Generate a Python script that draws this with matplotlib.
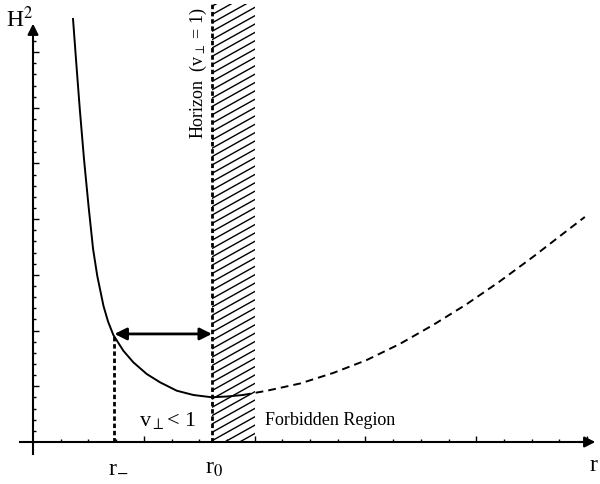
import numpy as np
import matplotlib.pyplot as plt

# Werte (Achseneinheiten: x-Tick 0.25, y-Tick 0.2)
solid_x = [0.361, 0.391, 0.422, 0.460, 0.501, 0.542, 0.580, 0.636, 0.677, 0.725, 0.815,
           0.905, 1.026, 1.146, 1.297, 1.447, 1.613, 1.751, 1.895]
solid_y = [7.594, 6.786, 5.978, 5.081, 4.237, 3.465, 2.980, 2.442, 2.163, 1.921, 1.639,
           1.431, 1.221, 1.072, 0.921, 0.844, 0.803, 0.817, 0.844]

dashed_x = [1.895, 2.11, 2.41, 2.71, 3.01, 3.31, 3.61, 3.91, 4.21, 4.51, 4.81, 4.98]
dashed_y = [0.844, 0.92, 1.05, 1.24, 1.47, 1.76, 2.10, 2.47, 2.88, 3.32, 3.78, 4.04]

r_minus = 0.735
r_zero = 1.615
forbidden_end = 2.0
arrow_level = 1.94
top = 7.86

plt.rcParams['font.family'] = ['Liberation Serif', 'DejaVu Serif']
plt.rcParams['mathtext.fontset'] = 'stix'

fig = plt.figure(figsize=(6, 4.85), dpi=100)
ax = fig.add_axes([0, 0, 1, 1])
ax.set_xlim(-0.298, 5.117)
ax.set_ylim(-0.754, 7.953)

# Achsen durch den Ursprung
for side in ['top', 'right']:
    ax.spines[side].set_visible(False)
ax.spines['left'].set_position(('data', 0))
ax.spines['bottom'].set_position(('data', 0))
ax.spines['left'].set_bounds(-0.215, 7.45)
ax.spines['bottom'].set_bounds(-0.117, 5.0)
for side in ['left', 'bottom']:
    ax.spines[side].set_linewidth(1.5)

ax.set_xticks(np.arange(1, 5.01, 1.0))
ax.set_xticks(np.arange(0.25, 5.01, 0.25), minor=True)
ax.set_yticks(np.arange(1, 7.01, 1.0))
ax.set_yticks(np.arange(0.2, 7.21, 0.2), minor=True)
ax.tick_params(which='both', direction='in', labelbottom=False, labelleft=False, width=1)
ax.tick_params(which='major', length=4.5)
ax.tick_params(which='minor', length=2.5)

# Pfeilspitzen der Achsen
ax.annotate('', xy=(0, 7.56), xytext=(0, 7.3),
            arrowprops=dict(arrowstyle='-|>', color='black', lw=1.5, mutation_scale=16))
ax.annotate('', xy=(5.10, 0), xytext=(4.9, 0),
            arrowprops=dict(arrowstyle='-|>', color='black', lw=1.5, mutation_scale=16))

# verbotener Bereich (schraffiert)
clip = plt.Rectangle((r_zero, 0), forbidden_end - r_zero, top, fill=False, lw=0)
ax.add_patch(clip)
spacing = 0.15
slope = 1.11
for b in np.arange(-slope * (forbidden_end - r_zero), top + spacing, spacing):
    ln, = ax.plot([r_zero, forbidden_end], [b, b + slope * (forbidden_end - r_zero)],
                  color='black', lw=1.0)
    ln.set_clip_path(clip)

# Kurve
ax.plot(solid_x, solid_y, color='black', lw=1.4)
ax.plot(dashed_x, dashed_y, color='black', lw=1.4, dashes=(4.0, 2.6))

# Horizont und r_-
ax.plot([r_zero, r_zero], [0, top], color='black', lw=2.0, dashes=(1.6, 1.0))
ax.plot([r_minus, r_minus], [0, arrow_level], color='black', lw=2.0, dashes=(1.6, 1.0))

ax.annotate('', xy=(r_minus, arrow_level), xytext=(r_zero, arrow_level),
            arrowprops=dict(arrowstyle='<|-|>', color='black', lw=2.0,
                            mutation_scale=18, shrinkA=0, shrinkB=0))

# Beschriftungen
ax.text(-0.12, 7.38, r'H$^2$', fontsize=17, ha='center', va='bottom')
ax.text(5.054, -0.40, 'r', fontsize=17, ha='center', va='center')
ax.text(r_minus + 0.03, -0.42, r'r$_{-}$', fontsize=17, ha='center', va='center')
ax.text(r_zero + 0.02, -0.45, r'r$_0$', fontsize=17, ha='center', va='center')
ax.text(1.22, 0.41, r'v$_{\perp}$< 1', fontsize=16, ha='center', va='center')
ax.text(2.09, 0.41, 'Forbidden Region', fontsize=13, ha='left', va='center')
ax.text(1.495, 6.64, r'Horizon  (v$_{\perp}$ = 1)', fontsize=13, rotation=90,
        ha='center', va='center')

fig.savefig('out.png', dpi=100)
